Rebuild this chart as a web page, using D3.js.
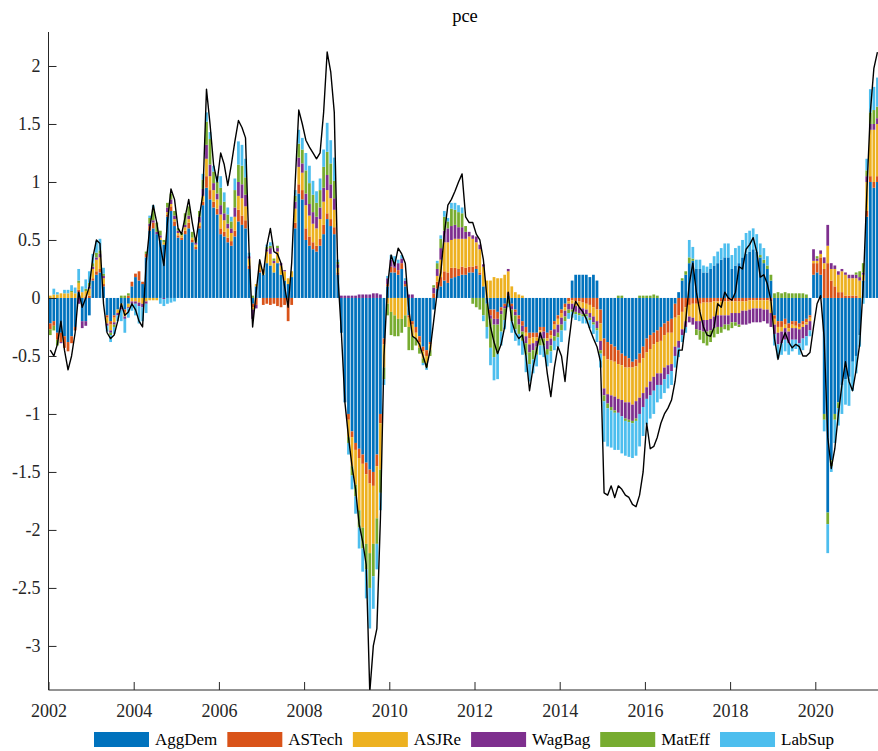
<!DOCTYPE html>
<html>
<head>
<meta charset="utf-8">
<script src="https://cdn.jsdelivr.net/npm/d3@7"></script>
<style>
  body { margin: 0; background: #fff; }
  text { font-family: "Liberation Serif", "Times New Roman", serif; }
</style>
</head>
<body>
<svg id="chart" width="878" height="751"></svg>
<script>
// monthly shock decomposition of pce, Jan 2002 .. Jun 2021
var startYear = 2002;
var seriesNames = ["AggDem", "ASTech", "ASJRe", "WagBag", "MatEff", "LabSup"];
var seriesColors = ["#0072BD", "#D95319", "#EDB120", "#7E2F8E", "#77AC30", "#4DBEEE"];
var xTicks = [2002, 2004, 2006, 2008, 2010, 2012, 2014, 2016, 2018, 2020];
var yTicks = [-3, -2.5, -2, -1.5, -1, -0.5, 0, 0.5, 1, 1.5, 2];

var aggDem = [
  -0.22,-0.2,-0.3,-0.3,-0.33,-0.38,-0.33,-0.25,0.05,-0.2,-0.2,-0.15,
  0.15,0.2,0.22,0.1,-0.15,-0.2,-0.15,-0.1,-0.05,-0.1,-0.05,0.1,
  0.18,0.15,0.12,0.35,0.58,0.6,0.55,0.5,0.46,0.7,0.75,0.62,
  0.52,0.5,0.55,0.6,0.48,0.42,0.6,0.8,0.95,0.85,0.78,0.72,
  0.55,0.53,0.48,0.45,0.53,0.66,0.63,0.6,0.25,-0.05,0.1,0.22,
  0.2,0.3,0.28,0.22,0.3,0.2,0.15,0.12,0.18,0.6,0.9,0.85,
  0.5,0.45,0.42,0.4,0.45,0.55,0.68,0.62,0.55,0.2,-0.3,-0.9,
  -1.0,-1.15,-1.25,-1.3,-1.35,-1.42,-1.48,-1.5,-1.35,-1.0,-0.35,0.1,
  0.22,0.22,0.2,0.25,0.1,-0.15,-0.2,-0.25,-0.33,-0.42,-0.45,-0.38,
  -0.1,0.08,0.1,0.15,0.13,0.17,0.18,0.19,0.2,0.2,0.22,0.22,
  0.25,0.2,0.1,-0.05,-0.1,-0.1,-0.12,-0.08,-0.05,0.02,-0.05,-0.1,
  -0.15,-0.2,-0.25,-0.3,-0.3,-0.3,-0.25,-0.25,-0.3,-0.28,-0.2,-0.15,
  -0.1,-0.05,0.0,0.15,0.2,0.2,0.2,0.2,0.18,0.2,0.15,-0.1,
  -0.35,-0.38,-0.4,-0.42,-0.45,-0.48,-0.5,-0.52,-0.55,-0.53,-0.48,-0.42,
  -0.35,-0.32,-0.3,-0.28,-0.25,-0.22,-0.2,-0.18,-0.05,0.05,0.15,0.2,
  0.3,0.32,0.25,0.25,0.22,0.22,0.25,0.28,0.3,0.33,0.35,0.35,
  0.25,0.28,0.3,0.35,0.38,0.4,0.42,0.4,0.35,0.3,0.25,0.15,
  -0.15,-0.2,-0.2,-0.18,-0.22,-0.2,-0.2,-0.22,-0.2,-0.18,-0.15,0.2,
  0.22,0.2,-1.0,-1.85,-1.4,-1.0,-0.9,-0.75,-0.7,-0.68,-0.55,-0.5,
  -0.32,0.15,0.7,1.0,0.95,1.0
];
var asTech = [
  -0.05,-0.04,-0.06,-0.08,-0.1,-0.08,-0.06,-0.03,0.02,0.0,0.01,0.02,
  0.02,0.03,0.03,0.02,-0.02,-0.03,-0.02,0,0,-0.02,0.02,0.04,
  0.03,0.08,0.02,0.03,0.04,0.05,0.0,0.0,0.0,0.02,0.04,0.04,
  0.02,0.02,0.03,0.05,0.02,0.02,0.02,0.03,0.1,0.08,0.05,0.05,
  0.05,0.04,0.04,0.04,0.05,0.1,0.08,0.07,0.03,-0.03,-0.06,0.02,
  -0.06,-0.05,-0.06,-0.05,-0.07,-0.08,-0.06,-0.2,-0.06,0.05,0.08,0.08,
  0.1,0.08,0.06,0.05,0.06,0.08,0.05,0.06,0.06,0.02,0.0,0.0,
  -0.05,-0.05,-0.06,-0.08,-0.08,-0.1,-0.12,-0.12,-0.1,-0.08,-0.05,0.02,
  0.05,0.04,0.04,0.05,0.02,-0.02,-0.03,-0.05,-0.05,-0.04,-0.05,-0.02,
  0.04,0.06,0.08,0.08,0.09,0.09,0.08,0.06,0.07,0.06,0.05,0.05,
  0.03,0.02,0.0,0.0,-0.05,-0.08,-0.06,-0.03,-0.02,0.03,-0.02,-0.02,
  -0.03,-0.04,-0.05,-0.05,-0.04,-0.04,-0.03,-0.04,-0.05,-0.04,-0.03,-0.03,
  -0.03,-0.03,-0.03,-0.02,-0.03,-0.03,-0.04,-0.05,-0.06,-0.08,-0.1,-0.12,
  -0.15,-0.15,-0.14,-0.13,-0.12,-0.1,-0.1,-0.08,-0.05,-0.06,-0.08,-0.1,
  -0.12,-0.12,-0.1,-0.1,-0.12,-0.1,-0.1,-0.12,-0.12,-0.15,-0.12,-0.08,
  -0.06,-0.05,-0.05,-0.05,-0.04,-0.04,-0.04,-0.03,-0.03,-0.03,-0.03,-0.03,
  -0.03,-0.03,-0.03,-0.03,-0.03,-0.02,-0.02,-0.02,-0.02,-0.02,-0.02,-0.03,
  -0.03,-0.05,-0.05,-0.05,-0.04,-0.03,-0.04,-0.03,-0.03,-0.03,-0.02,0.1,
  0.08,0.15,0.25,0.3,0.15,0.1,0.05,0.05,0.02,0.02,0.02,0.02,
  0.0,0.0,0.05,0.05,0.05,0.05
];
var asjRe = [
  0.02,0.03,0.03,0.04,0.04,0.04,0.05,0.04,0.06,0.05,0.05,0.06,
  0.08,0.1,0.1,0.05,-0.05,-0.05,-0.04,-0.03,-0.03,-0.04,-0.03,-0.03,
  -0.03,-0.04,-0.05,-0.03,-0.02,-0.02,-0.02,0.02,0.02,0.02,0.02,0.02,
  0.02,0.02,0.03,0.03,0.02,0.02,0.03,0.05,0.15,0.12,0.1,0.08,
  0.12,0.1,0.08,0.07,0.12,0.12,0.15,0.12,0.06,-0.02,0.02,0.05,
  0.05,0.1,0.1,0.08,0.1,0.08,0.08,0.05,0.05,0.12,0.15,0.15,
  0.2,0.18,0.16,0.15,0.17,0.2,0.2,0.18,0.15,0.04,0.0,0.0,
  -0.15,-0.25,-0.3,-0.45,-0.55,-0.6,-0.6,-0.5,-0.45,-0.4,-0.2,-0.05,
  -0.12,-0.15,-0.18,-0.18,-0.15,-0.08,-0.1,-0.05,-0.05,-0.06,-0.06,-0.05,
  0.0,0.05,0.15,0.25,0.26,0.24,0.25,0.26,0.24,0.25,0.26,0.24,
  0.2,0.2,0.17,0.15,0.15,0.18,0.17,0.17,0.2,0.18,0.1,0.05,
  0.03,0.02,-0.03,-0.05,-0.05,-0.03,-0.02,0.0,-0.02,-0.03,-0.04,-0.05,
  -0.04,-0.03,-0.02,-0.03,-0.04,-0.05,-0.05,-0.05,-0.07,-0.08,-0.1,-0.15,
  -0.28,-0.3,-0.3,-0.3,-0.3,-0.3,-0.3,-0.3,-0.32,-0.3,-0.3,-0.3,
  -0.3,-0.28,-0.28,-0.27,-0.28,-0.28,-0.28,-0.27,-0.25,-0.22,-0.15,-0.12,
  -0.1,-0.12,-0.15,-0.15,-0.15,-0.15,-0.14,-0.13,-0.12,-0.12,-0.12,-0.12,
  -0.1,-0.1,-0.1,-0.08,-0.08,-0.08,-0.07,-0.07,-0.07,-0.08,-0.08,-0.1,
  -0.05,-0.05,-0.04,-0.03,-0.03,-0.03,-0.02,-0.02,-0.02,-0.02,-0.03,0.02,
  0.02,0.03,0.05,0.15,0.1,0.15,0.15,0.18,0.18,0.15,0.15,0.15,
  0.15,0.05,0.25,0.4,0.45,0.45
];
var wagBag = [
  0,0,0,-0.01,0,0,0,0,-0.05,-0.06,-0.04,0.02,
  0.02,0.02,0.03,0.02,-0.02,-0.02,-0.02,-0.02,-0.02,-0.02,-0.01,-0.02,
  -0.02,-0.03,-0.03,-0.02,0.02,0.02,0.02,0.02,-0.01,0.04,0.04,0.03,
  0.02,0.0,0.02,0.03,0.0,0.02,0.05,0.06,0.12,0.1,0.06,0.05,
  0.08,0.06,0.04,0.04,0.08,0.12,0.12,0.1,0.02,-0.08,-0.03,0.0,
  0.0,0.02,0.05,0.02,0.03,0.02,0.01,0.0,0.0,0.06,0.08,0.08,
  0.1,0.1,0.1,0.1,0.1,0.12,0.13,0.12,0.1,0.03,0.02,0.02,
  0.02,0.02,0.02,0.03,0.03,0.03,0.03,0.04,0.04,0.03,0.0,0.05,
  0.06,0.05,0.06,0.04,0.03,0.03,0.03,0.0,0.0,0.0,0.0,0.0,
  0.05,0.06,0.1,0.1,0.12,0.12,0.12,0.1,0.1,0.06,0.04,0.03,
  0.05,0.04,0.02,0.0,-0.03,-0.05,-0.05,-0.03,-0.02,0.02,-0.03,-0.03,
  -0.05,-0.05,-0.06,-0.07,-0.06,-0.05,-0.05,-0.06,-0.07,-0.06,-0.06,-0.07,
  -0.06,-0.05,-0.05,-0.05,-0.05,-0.05,-0.05,-0.04,-0.04,-0.05,-0.06,-0.08,
  -0.06,-0.08,-0.1,-0.12,-0.12,-0.14,-0.14,-0.15,-0.14,-0.15,-0.14,-0.12,
  -0.1,-0.12,-0.12,-0.1,-0.1,-0.1,-0.08,-0.06,-0.08,-0.06,-0.05,-0.05,
  -0.05,-0.06,-0.07,-0.08,-0.1,-0.1,-0.1,-0.1,-0.1,-0.1,-0.08,-0.08,
  -0.08,-0.08,-0.1,-0.12,-0.12,-0.12,-0.12,-0.12,-0.12,-0.1,-0.12,-0.12,
  -0.08,-0.1,-0.1,-0.1,-0.1,-0.1,-0.1,-0.12,-0.1,-0.1,-0.08,0.1,
  0.02,0.03,0.05,0.18,0.05,0.03,0.03,0.02,0.02,0.03,0.03,0.03,
  0.03,0.02,0.05,0.05,0.05,0.05
];
var matEff = [
  -0.05,-0.04,-0.05,0,0,0,0.01,0.0,0.02,0.0,0.02,0.03,
  0.03,0.04,0.03,0.02,0.0,-0.02,-0.02,0.0,0.02,0.02,0.02,0.0,
  0.0,0.0,0.0,0.02,0.05,0.1,0.08,0.04,0.02,0.04,0.05,0.04,
  0.02,0.02,0.1,0.08,0.05,0.03,0.05,0.08,0.2,0.22,0.1,0.1,
  0.15,0.1,0.08,0.06,0.15,0.15,0.16,0.15,0.0,0.02,0.0,0.0,
  0.0,0.02,0.02,0.02,0.02,0.0,0.0,0.0,0.0,0.05,0.12,0.12,
  0.2,0.18,0.15,0.12,0.15,0.18,0.2,0.18,0.15,0.02,0.0,0.0,
  -0.05,-0.08,-0.1,-0.15,-0.18,-0.22,-0.3,-0.28,-0.22,-0.2,-0.1,-0.1,
  -0.2,-0.18,-0.15,-0.12,-0.1,-0.2,-0.12,-0.06,-0.05,-0.04,-0.04,-0.05,
  0.02,0.05,0.08,0.12,0.06,0.15,0.13,0.13,0.12,0.05,0.0,-0.05,
  -0.08,-0.1,-0.15,-0.2,-0.25,-0.28,-0.25,-0.15,-0.1,-0.05,-0.1,-0.12,
  -0.08,-0.08,-0.1,-0.1,-0.08,-0.07,-0.06,-0.06,-0.05,-0.05,-0.04,-0.04,
  -0.05,-0.04,-0.03,-0.02,-0.02,-0.02,-0.02,-0.02,-0.02,-0.02,-0.02,-0.03,
  -0.05,-0.04,-0.03,-0.02,0.02,0.02,-0.02,-0.02,-0.02,-0.02,0.02,0.02,
  0.02,0.02,0.03,0.02,0.0,0.0,0.0,0.0,0.0,0.0,0.02,0.03,
  0.05,0.02,-0.05,-0.08,-0.1,-0.12,-0.1,-0.08,-0.06,-0.05,-0.04,-0.05,
  -0.05,-0.03,-0.02,0.0,0.0,0.0,0.0,0.0,0.02,0.03,0.03,0.05,
  0.04,0.05,0.04,0.05,0.04,0.04,0.04,0.04,0.04,0.03,0.0,0.0,
  0.02,0.0,-0.05,-0.1,-0.05,-0.05,-0.05,0.0,0.0,0.0,0.0,0.02,
  0.05,0.08,0.05,0.1,0.12,0.1
];
var labSup = [
  0.0,0.05,0.02,0.0,0.03,0.03,0.05,0.05,0.1,0.05,0.08,0.1,
  0.08,0.1,0.1,0.05,-0.05,-0.06,-0.06,-0.05,-0.1,-0.12,-0.08,-0.06,
  -0.1,-0.15,-0.12,-0.08,0.02,0.03,0.0,-0.05,-0.06,-0.05,-0.04,-0.03,
  0.0,0.0,0.0,0.0,0.0,0.0,0.0,0.05,0.08,0.06,0.05,0.05,
  0.1,0.08,0.06,0.04,0.1,0.2,0.18,0.16,0.03,0.0,0.0,0.0,
  0.0,0.02,0.03,0.0,0.0,0.0,0.0,0.0,0.0,0.05,0.12,0.1,
  0.15,0.15,0.12,0.1,0.1,0.15,0.25,0.2,0.2,0.02,0.0,0.0,
  -0.1,-0.12,-0.15,-0.18,-0.2,-0.25,-0.35,-0.28,-0.22,-0.15,-0.05,0.02,
  0.04,0.05,0.03,0.03,0.02,0.0,0.0,0.0,0.0,-0.02,-0.02,0.0,
  0.0,0.02,0.03,0.05,0.03,0.05,0.06,0.06,0.05,0.0,0.0,0.0,
  0.0,0.0,-0.05,-0.1,-0.15,-0.2,-0.22,-0.12,-0.08,-0.03,-0.1,-0.1,
  -0.1,-0.12,-0.15,-0.15,-0.12,-0.1,-0.08,-0.1,-0.1,-0.1,-0.08,-0.08,
  -0.1,-0.08,-0.05,-0.05,-0.05,-0.05,-0.06,-0.06,-0.07,-0.08,-0.1,-0.12,
  -0.35,-0.33,-0.32,-0.32,-0.32,-0.32,-0.3,-0.3,-0.3,-0.3,-0.28,-0.25,
  -0.22,-0.2,-0.2,-0.15,-0.12,-0.12,-0.12,-0.12,-0.1,-0.08,-0.06,-0.05,
  0.15,0.1,0.08,0.08,0.06,0.05,0.05,0.08,0.1,0.1,0.12,0.12,
  0.12,0.15,0.15,0.15,0.18,0.18,0.18,0.15,0.1,0.1,0.08,0.0,
  -0.1,-0.12,-0.1,-0.1,-0.1,-0.1,-0.08,-0.1,-0.1,-0.08,-0.05,0.0,
  0.0,0.0,-0.1,-0.25,-0.05,-0.2,-0.15,-0.25,-0.22,-0.25,-0.25,-0.15,
  -0.1,-0.05,0.1,0.2,0.2,0.25
];
// black line: pce itself
var pce = [
  -0.45,-0.5,-0.4,-0.2,-0.45,-0.62,-0.5,-0.3,0.05,-0.08,0.0,0.1,
  0.35,0.5,0.47,-0.05,-0.3,-0.35,-0.32,-0.2,-0.05,-0.15,-0.12,-0.05,
  -0.1,-0.2,-0.25,0.3,0.6,0.8,0.65,0.45,0.28,0.65,0.94,0.85,
  0.6,0.55,0.7,0.85,0.65,0.48,0.7,0.9,1.8,1.5,1.15,1.0,
  1.25,1.15,0.97,1.15,1.35,1.53,1.47,1.38,0.4,-0.25,0.05,0.33,
  0.2,0.45,0.6,0.4,0.38,0.3,0.1,-0.08,0.3,1.0,1.62,1.5,
  1.36,1.3,1.25,1.2,1.25,1.6,2.12,1.95,1.6,0.2,-0.3,-0.9,
  -1.2,-1.45,-1.65,-1.95,-2.1,-2.3,-3.4,-3.0,-2.85,-1.9,-0.5,0.1,
  0.37,0.28,0.43,0.38,0.3,-0.1,-0.33,-0.35,-0.4,-0.5,-0.6,-0.45,
  -0.2,0.05,0.22,0.55,0.8,0.85,0.92,1.0,1.07,0.7,0.65,0.65,
  0.55,0.5,0.33,0.0,-0.25,-0.38,-0.48,-0.4,-0.25,0.05,-0.2,-0.3,
  -0.35,-0.32,-0.5,-0.8,-0.6,-0.45,-0.3,-0.4,-0.65,-0.85,-0.6,-0.42,
  -0.5,-0.72,-0.4,-0.15,-0.03,-0.08,-0.12,-0.18,-0.27,-0.35,-0.42,-0.55,
  -1.68,-1.7,-1.62,-1.72,-1.62,-1.65,-1.7,-1.72,-1.78,-1.8,-1.7,-1.5,
  -1.08,-1.3,-1.28,-1.2,-1.08,-1.0,-0.95,-0.88,-0.72,-0.45,-0.45,-0.2,
  0.12,0.3,0.05,-0.12,-0.25,-0.32,-0.33,-0.25,-0.05,-0.08,0.05,0.0,
  -0.02,0.05,0.27,0.25,0.42,0.46,0.52,0.4,0.18,0.2,0.12,-0.02,
  -0.35,-0.53,-0.38,-0.3,-0.38,-0.43,-0.4,-0.42,-0.5,-0.5,-0.47,-0.25,
  -0.05,0.02,-0.35,-1.2,-1.47,-1.3,-1.0,-0.75,-0.55,-0.72,-0.8,-0.62,
  -0.4,0.1,0.9,1.6,1.98,2.12
];

var svg = d3.select("#chart");
var plotLeft = 48.5, plotRight = 878, plotTop = 32, plotBottom = 690;

// one row per month, time as fractional year at mid-month
var rows = pce.map((v, i) => ({
  t: startYear + (i + 0.5) / 12,
  AggDem: aggDem[i], ASTech: asTech[i], ASJRe: asjRe[i],
  WagBag: wagBag[i], MatEff: matEff[i], LabSup: labSup[i],
  pce: v
}));

var x = d3.scaleLinear().domain([2002, 2022]).range([plotLeft, plotLeft + 20 * 42.6]);
var y = d3.scaleLinear().domain([-3.38, 2.293]).range([plotBottom, plotTop]);
var color = d3.scaleOrdinal().domain(seriesNames).range(seriesColors);

svg.append("clipPath").attr("id", "plotClip")
  .append("rect")
  .attr("x", plotLeft).attr("y", plotTop)
  .attr("width", plotRight - plotLeft).attr("height", plotBottom - plotTop);

var stacked = d3.stack()
  .keys(seriesNames)
  .offset(d3.stackOffsetDiverging)(rows);

var barW = x(2002 + 1 / 12) - x(2002) - 0.8;

var plot = svg.append("g").attr("clip-path", "url(#plotClip)");

plot.selectAll("g.layer")
  .data(stacked)
  .join("g")
  .attr("class", "layer")
  .attr("fill", d => color(d.key))
  .selectAll("rect")
  .data(d => d)
  .join("rect")
  .attr("x", d => x(d.data.t) - barW / 2)
  .attr("width", barW)
  .attr("y", d => y(Math.max(d[0], d[1])))
  .attr("height", d => Math.abs(y(d[0]) - y(d[1])));

var line = d3.line()
  .x(d => x(d.t))
  .y(d => y(d.pce));

plot.append("path")
  .datum(rows)
  .attr("fill", "none")
  .attr("stroke", "#000")
  .attr("stroke-width", 1.4)
  .attr("stroke-linejoin", "round")
  .attr("d", line);

// axes
var axisColor = "#262626";
var xAxis = svg.append("g")
  .attr("transform", "translate(0," + plotBottom + ")")
  .call(d3.axisBottom(x).tickValues(xTicks).tickFormat(d => String(d))
    .tickSizeInner(-8).tickSizeOuter(0).tickPadding(14));

var yAxis = svg.append("g")
  .attr("transform", "translate(" + plotLeft + ",0)")
  .call(d3.axisLeft(y).tickValues(yTicks).tickFormat(d => String(d))
    .tickSizeInner(-8).tickSizeOuter(0).tickPadding(8));

[xAxis, yAxis].forEach(a => {
  a.select(".domain").attr("stroke", axisColor);
  a.selectAll(".tick line").attr("stroke", axisColor);
  a.selectAll(".tick text")
    .attr("fill", axisColor)
    .style("font-family", '"Liberation Serif", serif')
    .style("font-size", "18px");
});
xAxis.select(".domain").attr("d", "M" + plotLeft + ",0H" + (plotRight + 5));
yAxis.select(".domain").attr("d", "M0," + plotTop + "V" + plotBottom);

// title
svg.append("text")
  .attr("x", 465).attr("y", 22)
  .attr("text-anchor", "middle")
  .attr("fill", "#000")
  .style("font-size", "18.5px")
  .text("pce");

// legend
var legend = svg.append("g").attr("transform", "translate(94,732)");
var lx = 0;
seriesNames.forEach((name, i) => {
  legend.append("rect")
    .attr("x", lx).attr("y", 0)
    .attr("width", 55).attr("height", 15)
    .attr("fill", seriesColors[i]);
  var t = legend.append("text")
    .attr("x", lx + 61).attr("y", 12.5)
    .attr("fill", "#000")
    .style("font-size", "17px")
    .text(name);
  lx += 61 + t.node().getComputedTextLength() + 10;
});
</script>
</body>
</html>
